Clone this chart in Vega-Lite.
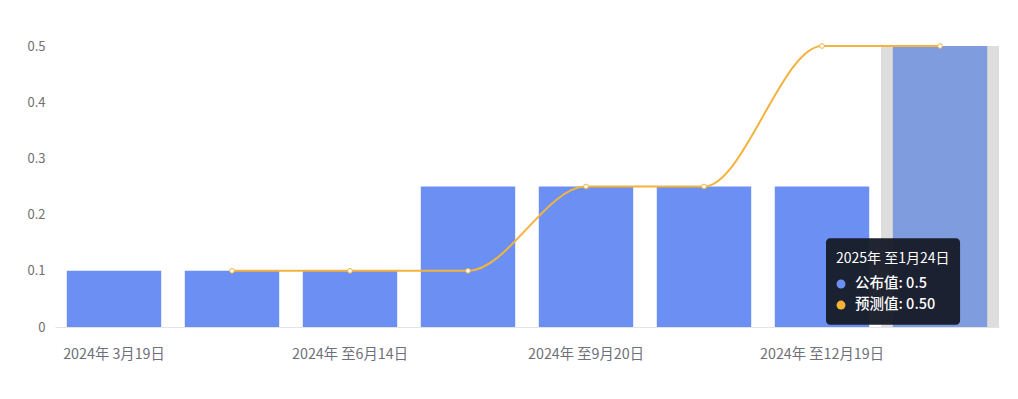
{
  "$schema": "https://vega.github.io/schema/vega-lite/v6.json",
  "width": 944,
  "height": 281,
  "autosize": "none",
  "padding": {"left": 55, "top": 46, "right": 19, "bottom": 72},
  "background": "#ffffff",
  "config": {"font": "Noto Sans CJK SC", "view": {"stroke": null}},
  "data": {
    "values": [
      {"date": "2024年 3月19日", "actual": 0.1, "forecast": null},
      {"date": "2024年 至4月26日", "actual": 0.1, "forecast": 0.1},
      {"date": "2024年 至6月14日", "actual": 0.1, "forecast": 0.1},
      {"date": "2024年 至7月31日", "actual": 0.25, "forecast": 0.1},
      {"date": "2024年 至9月20日", "actual": 0.25, "forecast": 0.25},
      {"date": "2024年 至10月31日", "actual": 0.25, "forecast": 0.25},
      {"date": "2024年 至12月19日", "actual": 0.25, "forecast": 0.5},
      {"date": "2025年 至1月24日", "actual": 0.5, "forecast": 0.5}
    ]
  },
  "encoding": {
    "x": {
      "field": "date",
      "type": "nominal",
      "sort": null,
      "scale": {
        "domain": ["2024年 3月19日", "2024年 至4月26日", "2024年 至6月14日", "2024年 至7月31日", "2024年 至9月20日", "2024年 至10月31日", "2024年 至12月19日", "2025年 至1月24日"],
        "paddingInner": 0,
        "paddingOuter": 0
      },
      "axis": {
        "title": null,
        "values": ["2024年 3月19日", "2024年 至6月14日", "2024年 至9月20日", "2024年 至12月19日"],
        "labelAngle": 0,
        "ticks": false,
        "grid": false,
        "domainColor": "#e0e3e8",
        "labelColor": "#6e7079",
        "labelFontSize": 14.3,
        "labelPadding": 20
      }
    }
  },
  "layer": [
    {
      "transform": [{"filter": "datum.date === '2025年 至1月24日'"}],
      "mark": {"type": "bar", "width": {"band": 1}, "color": "#dddddd"},
      "encoding": {"y": {"datum": 0.5, "type": "quantitative", "title": null}}
    },
    {
      "mark": {"type": "bar", "width": {"band": 0.8}},
      "encoding": {
        "y": {
          "field": "actual",
          "type": "quantitative",
          "title": null,
          "scale": {"domain": [0, 0.5], "nice": false},
          "axis": {
            "values": [0, 0.1, 0.2, 0.3, 0.4, 0.5],
            "format": "~g",
            "domain": false,
            "ticks": false,
            "labelPadding": 10,
            "labelColor": "#707070",
            "labelFontSize": 13,
            "gridColor": "#eef0f3"
          }
        },
        "color": {
          "condition": {"test": "datum.date === '2025年 至1月24日'", "value": "#7f9cdf"},
          "value": "#6b8ff2"
        }
      }
    },
    {
      "transform": [{"filter": "datum.forecast != null"}],
      "mark": {"type": "line", "interpolate": "monotone", "color": "#f3b33f", "strokeWidth": 2},
      "encoding": {"y": {"field": "forecast", "type": "quantitative", "title": null}}
    },
    {
      "transform": [{"filter": "datum.forecast != null"}],
      "mark": {"type": "point", "filled": true, "fill": "#ffffff", "stroke": "#f3b33f", "strokeWidth": 1, "size": 22, "opacity": 1},
      "encoding": {"y": {"field": "forecast", "type": "quantitative", "title": null}}
    },
    {
      "transform": [{"filter": "datum.date === '2025年 至1月24日'"}],
      "mark": {"type": "rect", "cornerRadius": 4, "fill": "#171c29", "opacity": 0.96},
      "encoding": {
        "x": {"datum": "2024年 至12月19日", "type": "nominal", "bandPosition": 0.534},
        "x2": {"datum": "2025年 至1月24日", "bandPosition": 0.67},
        "y": {"datum": 0.158, "type": "quantitative", "title": null},
        "y2": {"datum": 0.004}
      }
    },
    {
      "transform": [{"filter": "datum.date === '2025年 至1月24日'"}],
      "mark": {"type": "text", "align": "left", "baseline": "middle", "color": "#ffffff", "fontSize": 14, "text": "2025年 至1月24日"},
      "encoding": {
        "x": {"datum": "2024年 至12月19日", "type": "nominal", "bandPosition": 0.619},
        "y": {"datum": 0.121, "type": "quantitative", "title": null}
      }
    },
    {
      "transform": [{"filter": "datum.date === '2025年 至1月24日'"}],
      "mark": {"type": "point", "filled": true, "color": "#6b8ff2", "size": 80, "opacity": 1},
      "encoding": {
        "x": {"datum": "2024年 至12月19日", "type": "nominal", "bandPosition": 0.661},
        "y": {"datum": 0.0765, "type": "quantitative", "title": null}
      }
    },
    {
      "transform": [{"filter": "datum.date === '2025年 至1月24日'"}],
      "mark": {"type": "point", "filled": true, "color": "#f5b335", "size": 80, "opacity": 1},
      "encoding": {
        "x": {"datum": "2024年 至12月19日", "type": "nominal", "bandPosition": 0.661},
        "y": {"datum": 0.039, "type": "quantitative", "title": null}
      }
    },
    {
      "transform": [{"filter": "datum.date === '2025年 至1月24日'"}],
      "mark": {"type": "text", "align": "left", "baseline": "middle", "color": "#ffffff", "fontSize": 14.5, "fontWeight": 500, "text": "公布值: 0.5"},
      "encoding": {
        "x": {"datum": "2024年 至12月19日", "type": "nominal", "bandPosition": 0.78},
        "y": {"datum": 0.0765, "type": "quantitative", "title": null}
      }
    },
    {
      "transform": [{"filter": "datum.date === '2025年 至1月24日'"}],
      "mark": {"type": "text", "align": "left", "baseline": "middle", "color": "#ffffff", "fontSize": 14.5, "fontWeight": 500, "text": "预测值: 0.50"},
      "encoding": {
        "x": {"datum": "2024年 至12月19日", "type": "nominal", "bandPosition": 0.78},
        "y": {"datum": 0.039, "type": "quantitative", "title": null}
      }
    }
  ]
}
